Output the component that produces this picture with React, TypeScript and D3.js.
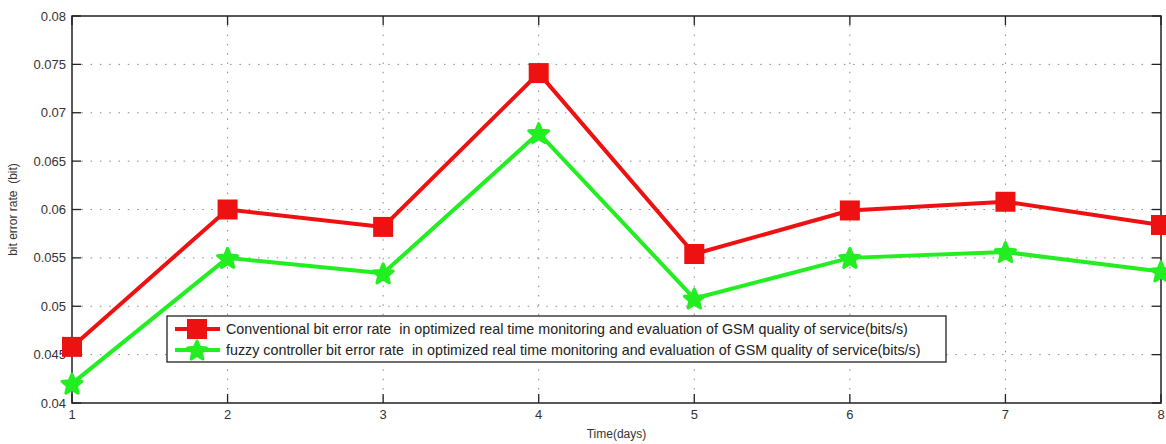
import React from "react";
import * as d3 from "d3";

const days = [1, 2, 3, 4, 5, 6, 7, 8];
const conventional = [0.0458, 0.0600, 0.0582, 0.0741, 0.0554, 0.0599, 0.0608, 0.0584];
const fuzzy = [0.0420, 0.0550, 0.0534, 0.0679, 0.0508, 0.0550, 0.0556, 0.0536];
const yTicks = [0.04, 0.045, 0.05, 0.055, 0.06, 0.065, 0.07, 0.075, 0.08];
const xTicks = [1, 2, 3, 4, 5, 6, 7, 8];
const legendLabels = [
  "Conventional bit error rate  in optimized real time monitoring and evaluation of GSM quality of service(bits/s)",
  "fuzzy controller bit error rate  in optimized real time monitoring and evaluation of GSM quality of service(bits/s)",
];

const W = 1166, H = 444;
const M = { left: 72, right: 1161, top: 16, bottom: 403 };
const font = "Liberation Sans, Arial, sans-serif";

function starPath(cx: number, cy: number, R: number) {
  const r = R * 0.45;
  const pts: string[] = [];
  for (let i = 0; i < 10; i++) {
    const a = -Math.PI / 2 + (i * Math.PI) / 5;
    const rad = i % 2 === 0 ? R : r;
    pts.push(`${cx + rad * Math.cos(a)},${cy + rad * Math.sin(a)}`);
  }
  return "M" + pts.join("L") + "Z";
}

export default function App() {
  const x = d3.scaleLinear().domain([1, 8]).range([M.left, M.right]);
  const y = d3.scaleLinear().domain([0.04, 0.08]).range([M.bottom, M.top]);
  const line = d3.line<number>().x((_, i) => x(days[i])).y((d) => y(d));
  const fmt = (v: number) => String(+v.toFixed(3));

  const lgX = 167, lgY = 316, lgW = 779, lgH = 46;

  return (
    <svg width={W} height={H} style={{ position: "absolute", left: 0, top: 0, background: "#fff" }}>
      {/* grid */}
      {yTicks.slice(1, -1).map((t) => (
        <line key={"gy" + t} x1={M.left} x2={M.right} y1={y(t)} y2={y(t)} stroke="#888" strokeWidth={1} strokeDasharray="1.5 7.8" />
      ))}
      {xTicks.slice(1, -1).map((t) => (
        <line key={"gx" + t} x1={x(t)} x2={x(t)} y1={M.top} y2={M.bottom} stroke="#888" strokeWidth={1} strokeDasharray="1.5 7.8" />
      ))}
      {/* ticks */}
      {yTicks.map((t) => (
        <g key={"ty" + t}>
          <line x1={M.left} x2={M.left + 9} y1={y(t)} y2={y(t)} stroke="#222" strokeWidth={1.3} />
          <line x1={M.right} x2={M.right - 9} y1={y(t)} y2={y(t)} stroke="#222" strokeWidth={1.3} />
          <text x={M.left - 6} y={y(t)} dy="0.35em" textAnchor="end" fontFamily={font} fontSize={13} fill="#333">
            {fmt(t)}
          </text>
        </g>
      ))}
      {xTicks.map((t) => (
        <g key={"tx" + t}>
          <line x1={x(t)} x2={x(t)} y1={M.bottom} y2={M.bottom - 9} stroke="#222" strokeWidth={1.3} />
          <line x1={x(t)} x2={x(t)} y1={M.top} y2={M.top + 9} stroke="#222" strokeWidth={1.3} />
          <text x={x(t)} y={M.bottom + 16} textAnchor="middle" fontFamily={font} fontSize={13} fill="#333">
            {t}
          </text>
        </g>
      ))}
      {/* frame */}
      <rect x={M.left} y={M.top} width={M.right - M.left} height={M.bottom - M.top} fill="none" stroke="#222" strokeWidth={1.5} />
      {/* lines */}
      <path d={line(conventional) || ""} fill="none" stroke="#ee1111" strokeWidth={4} strokeLinejoin="round" />
      <path d={line(fuzzy) || ""} fill="none" stroke="#22ee22" strokeWidth={4} strokeLinejoin="round" />
      {conventional.map((v, i) => (
        <rect key={"r" + i} x={x(days[i]) - 10} y={y(v) - 10} width={20} height={20} fill="#ee1111" />
      ))}
      {fuzzy.map((v, i) => (
        <path key={"s" + i} d={starPath(x(days[i]), y(v) + 1, 10.5)} fill="#22ee22" stroke="#22ee22" strokeWidth={3} strokeLinejoin="round" />
      ))}
      {/* legend */}
      <rect x={lgX} y={lgY} width={lgW} height={lgH} fill="#fff" stroke="#222" strokeWidth={1.3} />
      <line x1={lgX + 8} x2={lgX + 53} y1={lgY + 13} y2={lgY + 13} stroke="#ee1111" strokeWidth={4} />
      <rect x={lgX + 20} y={lgY + 3} width={20} height={20} fill="#ee1111" />
      <text x={lgX + 59} y={lgY + 13} dy="0.35em" fontFamily={font} fontSize={14.3} fill="#222" style={{ whiteSpace: "pre" }}>{legendLabels[0]}</text>
      <line x1={lgX + 8} x2={lgX + 53} y1={lgY + 34} y2={lgY + 34} stroke="#22ee22" strokeWidth={4} />
      <path d={starPath(lgX + 30, lgY + 35, 10)} fill="#22ee22" stroke="#22ee22" strokeWidth={3} strokeLinejoin="round" />
      <text x={lgX + 59} y={lgY + 34} dy="0.35em" fontFamily={font} fontSize={14.3} fill="#222" style={{ whiteSpace: "pre" }}>{legendLabels[1]}</text>
      {/* axis labels */}
      <text x={(M.left + M.right) / 2} y={438} textAnchor="middle" fontFamily={font} fontSize={12} fill="#333">Time(days)</text>
      <text transform={`translate(17,${(M.top + M.bottom) / 2}) rotate(-90)`} textAnchor="middle" fontFamily={font} fontSize={12} fill="#333" style={{ whiteSpace: "pre" }}>bit error rate  (bit)</text>
    </svg>
  );
}
